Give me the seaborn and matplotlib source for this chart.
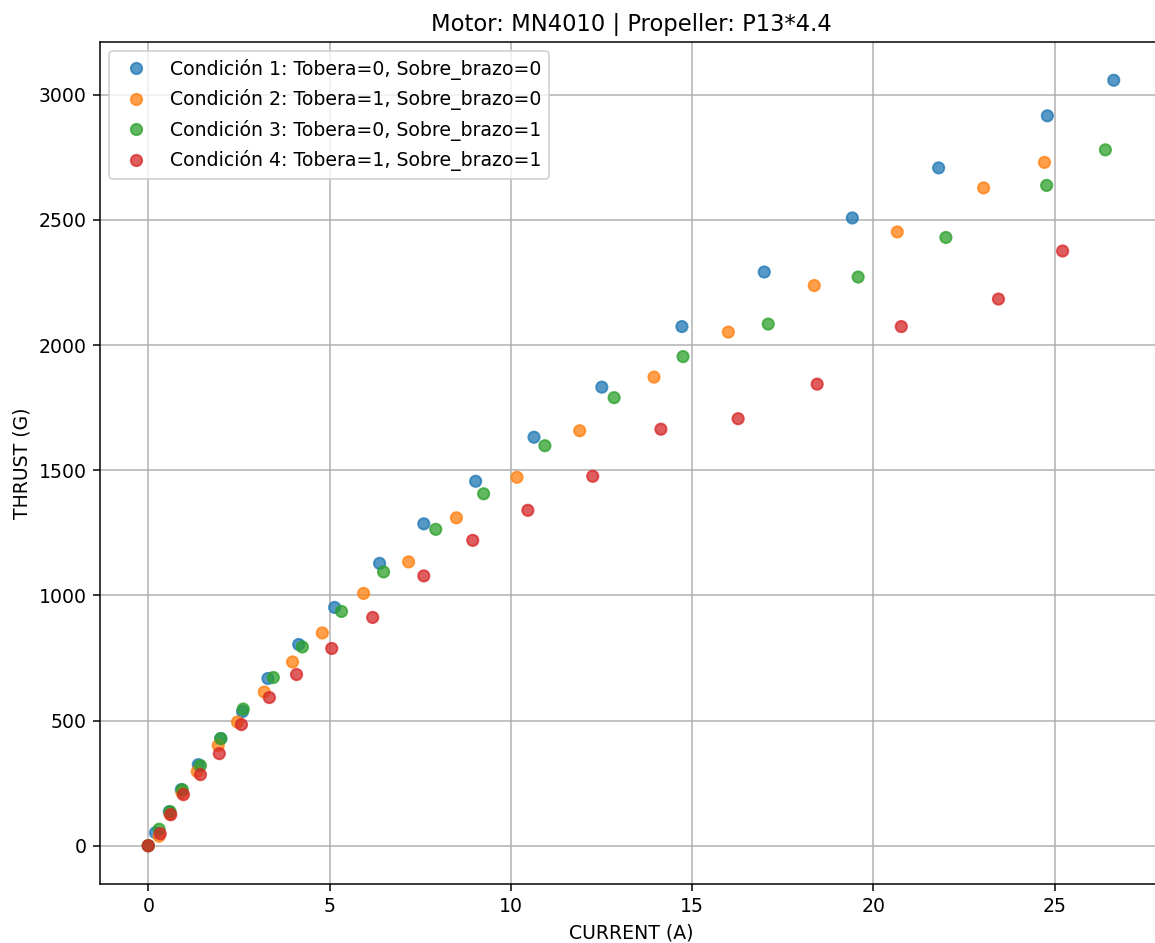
import numpy as np
import pandas as pd
import matplotlib
matplotlib.use("Agg")
import matplotlib.pyplot as plt
import seaborn as sns

labels = [
    "Condición 1: Tobera=0, Sobre_brazo=0",
    "Condición 2: Tobera=1, Sobre_brazo=0",
    "Condición 3: Tobera=0, Sobre_brazo=1",
    "Condición 4: Tobera=1, Sobre_brazo=1",
]

c1_current = [0, 0.2, 0.58, 0.91, 1.38, 2.0, 2.6, 3.3, 4.15, 5.14, 6.38, 7.6, 9.03, 10.64, 12.51, 14.72, 16.99, 19.42, 21.8, 24.8, 26.63]
c1_thrust = [0, 52, 136, 224, 324, 428, 536, 668, 804, 952, 1128, 1286, 1456, 1632, 1832, 2074, 2292, 2508, 2708, 2916, 3058]

c2_current = [0, 0.3, 0.6, 0.93, 1.35, 1.93, 2.46, 3.2, 3.98, 4.8, 5.94, 7.18, 8.5, 10.17, 11.9, 13.95, 16.0, 18.37, 20.66, 23.04, 24.72]
c2_thrust = [0, 38, 126, 212, 296, 400, 494, 614, 734, 850, 1008, 1134, 1310, 1472, 1658, 1872, 2052, 2238, 2452, 2628, 2730]

c3_current = [0, 0.3, 0.6, 0.94, 1.44, 2.0, 2.62, 3.45, 4.25, 5.33, 6.49, 7.93, 9.25, 10.94, 12.85, 14.75, 17.1, 19.58, 22.0, 24.78, 26.4]
c3_thrust = [0, 66, 136, 224, 320, 428, 546, 672, 794, 936, 1094, 1264, 1406, 1598, 1790, 1954, 2084, 2272, 2430, 2638, 2780]

c4_current = [0, 0.33, 0.62, 0.97, 1.44, 1.96, 2.57, 3.34, 4.09, 5.06, 6.19, 7.6, 8.95, 10.47, 12.26, 14.14, 16.27, 18.45, 20.77, 23.45, 25.22]
c4_thrust = [0, 48, 124, 204, 284, 368, 484, 592, 684, 788, 912, 1078, 1220, 1340, 1476, 1664, 1706, 1844, 2074, 2184, 2376]

rows = []
for lab, xs, ys in zip(labels,
                       [c1_current, c2_current, c3_current, c4_current],
                       [c1_thrust, c2_thrust, c3_thrust, c4_thrust]):
    for x, y in zip(xs, ys):
        rows.append({"CURRENT (A)": x, "THRUST (G)": y, "cond": lab})
df = pd.DataFrame(rows)

palette = ["#1f77b4", "#ff7f0e", "#2ca02c", "#d62728"]

DPI = 136
fig = plt.figure(figsize=(1155 / DPI, 943 / DPI), dpi=DPI)
ax = fig.add_axes([100 / 1155, 59 / 943, 1062 / 1155, 842 / 943])
sns.scatterplot(data=df, x="CURRENT (A)", y="THRUST (G)", hue="cond",
                hue_order=labels, palette=palette, alpha=0.75, s=36,
                edgecolor="face", linewidth=1.0, ax=ax)
ax.grid(True, color="#b0b0b0", linewidth=0.8)
ax.set_axisbelow(True)
ax.set_title("Motor: MN4010 | Propeller: P13*4.4", fontsize=12)
ax.set_xlabel("CURRENT (A)")
ax.set_ylabel("THRUST (G)")
ax.set_yticks([0, 500, 1000, 1500, 2000, 2500, 3000])
leg = ax.legend(loc="upper left", fontsize=10)
fig.savefig("out.png", dpi=DPI)
